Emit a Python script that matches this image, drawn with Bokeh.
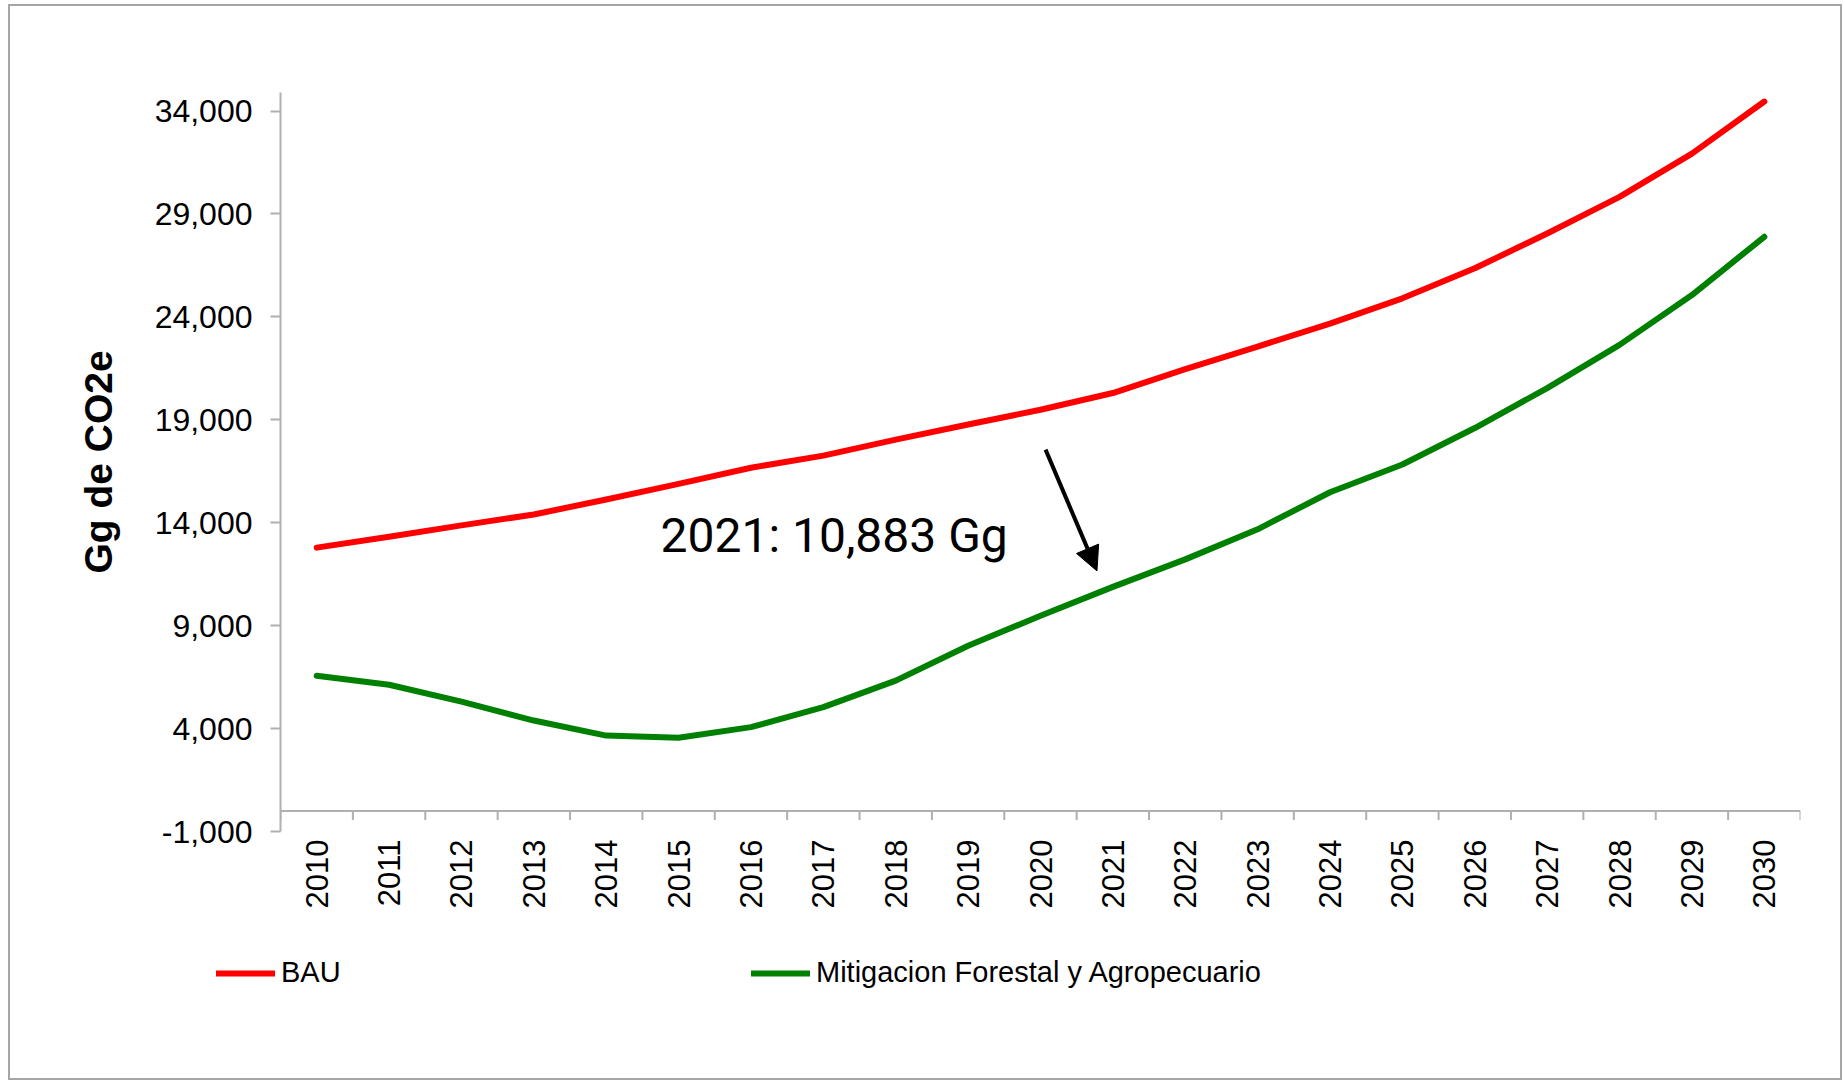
import math
from bokeh.plotting import figure
from bokeh.layouts import column
from bokeh.models import (Range1d, FixedTicker, NumeralTickFormatter, Legend, LegendItem,
                          Label, Arrow, NormalHead, ColumnDataSource, Span)
from bokeh.embed import file_html
from bokeh.resources import INLINE

# ---- data ----
years = list(range(2010, 2031))
bau = [12790, 13320, 13870, 14400, 15130, 15890, 16670, 17260, 18040, 18770, 19490,
       20300, 21460, 22560, 23670, 24900, 26360, 28050, 29830, 31930, 34460]
mitigacion = [6570, 6130, 5310, 4390, 3660, 3550, 4070, 5040, 6330, 8020, 9480,
              10883, 12220, 13680, 15480, 16830, 18600, 20540, 22640, 25060, 27890]
y_ticks = [-1000, 4000, 9000, 14000, 19000, 24000, 29000, 34000]
series_names = ["BAU", "Mitigacion Forestal y Agropecuario"]
series_colors = ["#ff0000", "#008000"]
y_title = "Gg de CO2e"
annotation_text = "2021: 10,883 Gg"
annotation_pos = (2014.75, 13390)
arrow_start = (2020.07, 17550)
arrow_end = (2020.78, 11660)

AXIS_GRAY = "#b0b0b0"
FONT = "Liberation Sans"

W = 1830
HA, HB = 915, 157
ML, MR, MT, MB = 270, 40, 86, 90
Y0, Y1 = -1000, 34900

src = ColumnDataSource(dict(year=years, bau=bau, mit=mitigacion))

p = figure(width=W, height=HA, output_backend="svg", toolbar_location=None,
           x_range=Range1d(2009.5, 2030.5), y_range=Range1d(Y0, Y1),
           min_border_left=ML, min_border_right=MR, min_border_top=MT,
           min_border_bottom=MB)
p.frame_align = False
p.grid.visible = False
p.outline_line_color = None

p.line("year", "bau", source=src, line_color=series_colors[0], line_width=6,
       line_cap="round", line_join="round")
p.line("year", "mit", source=src, line_color=series_colors[1], line_width=6,
       line_cap="round", line_join="round")

# category axis line crossing at y = 0, with ticks between categories
p.add_layout(Span(location=0, dimension="width", line_color=AXIS_GRAY, line_width=2))
bounds = [y - 0.5 for y in years] + [years[-1] + 0.5]
per_px = (Y1 - Y0) / (HA - MT - MB)
tick_src = ColumnDataSource(dict(b=bounds, z=[0] * len(bounds),
                                 t=[-9 * per_px] * len(bounds)))
p.segment(x0="b", y0="z", x1="b", y1="t", source=tick_src,
          line_color=AXIS_GRAY, line_width=2)

# x axis: labels only
xa = p.xaxis[0]
xa.ticker = FixedTicker(ticks=years, minor_ticks=[])
xa.major_label_overrides = {y: str(y) for y in years}
xa.major_label_orientation = math.pi / 2
xa.major_tick_out = 0
xa.major_tick_in = 0
xa.minor_tick_out = 0
xa.minor_tick_in = 0
xa.axis_line_color = None
xa.major_tick_line_color = None
xa.minor_tick_line_color = None
xa.major_label_standoff = 8
xa.major_label_text_font = FONT
xa.major_label_text_font_size = "31px"
xa.major_label_text_color = "black"

# y axis
ya = p.yaxis[0]
ya.ticker = FixedTicker(ticks=y_ticks)
ya.formatter = NumeralTickFormatter(format="0,0")
ya.major_tick_out = 10
ya.major_tick_in = 0
ya.minor_tick_out = 0
ya.minor_tick_in = 0
ya.major_tick_line_color = AXIS_GRAY
ya.major_tick_line_width = 2
ya.axis_line_color = AXIS_GRAY
ya.axis_line_width = 2
ya.major_label_standoff = 18
ya.major_label_text_font = FONT
ya.major_label_text_font_size = "32px"
ya.major_label_text_color = "black"
ya.axis_label = y_title
ya.axis_label_text_font = FONT
ya.axis_label_text_font_style = "bold"
ya.axis_label_text_font_size = "39px"
ya.axis_label_text_color = "black"
ya.axis_label_standoff = 32

# annotation
p.add_layout(Label(x=annotation_pos[0], y=annotation_pos[1], text=annotation_text,
                   text_font="Roboto", text_font_size="48px",
                   text_baseline="alphabetic", text_color="black"))
p.add_layout(Arrow(end=NormalHead(size=24, fill_color="black", line_color="black"),
                   x_start=arrow_start[0], y_start=arrow_start[1],
                   x_end=arrow_end[0], y_end=arrow_end[1],
                   line_width=4, line_color="black"))

# legend strip (own small figure below the chart; series drawn out of its view)
q = figure(width=W, height=HB, output_backend="svg", toolbar_location=None,
           x_range=Range1d(0, 1), y_range=Range1d(0, 1),
           x_axis_location=None, y_axis_location=None,
           min_border=0)
q.frame_align = False
q.grid.visible = False
q.outline_line_color = None
items = []
for name, col, color in zip(series_names, ["bau", "mit"], series_colors):
    r = q.line("year", col, source=src, line_color=color, line_width=6,
               line_cap="round", line_join="round")
    items.append(LegendItem(label=name, renderers=[r]))
legend = Legend(items=items, orientation="horizontal", location=(206, 89),
                glyph_width=59, glyph_height=20, label_standoff=6,
                label_width=470, spacing=0, padding=0, margin=0,
                border_line_color=None, background_fill_alpha=0,
                label_text_font=FONT, label_text_font_size="29px",
                label_text_color="black")
q.add_layout(legend)

layout = column(p, q, spacing=0)
layout.styles = {"border": "2px solid #a6a6a6", "margin-left": "8px", "margin-top": "4px"}

open("out.html", "w").write(file_html(layout, INLINE))
